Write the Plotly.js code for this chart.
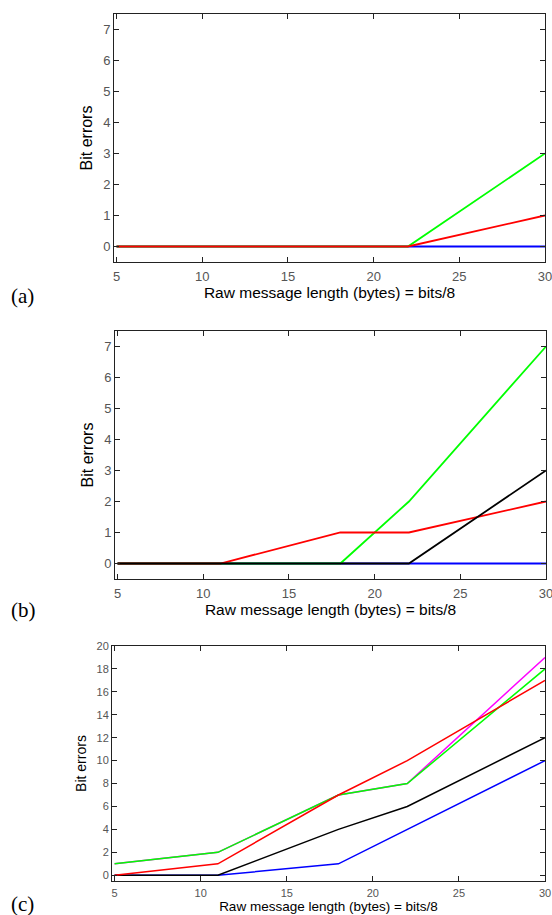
<!DOCTYPE html>
<html><head><meta charset="utf-8">
<script src="https://cdn.plot.ly/plotly-3.0.1.min.js"></script>
<style>html,body{margin:0;padding:0;background:#fff;}#chart{width:552px;height:915px;}</style>
</head><body><div id="chart"></div><script>
// x values: raw message length (bytes)
const lengths = [5, 11, 18, 22, 30];
const xTicks = [5, 10, 15, 20, 25, 30];
// panel (a)
const aBlue = [0, 0, 0, 0, 0];
const aGreen = [0, 0, 0, 0, 3];
const aRed = [0, 0, 0, 0, 1];
// panel (b)
const bBlue = [0, 0, 0, 0, 0];
const bGreen = [0, 0, 0, 2, 7];
const bRed = [0, 0, 1, 1, 2];
const bBlack = [0, 0, 0, 0, 3];
// panel (c)
const cBlue = [0, 0, 1, 4, 10];
const cBlack = [0, 0, 4, 6, 12];
const cMagenta = [1, 2, 7, 8, 19];
const cGreen = [1, 2, 7, 8, 18];
const cRed = [0, 1, 7, 10, 17];
const panelLabels = ['(a)', '(b)', '(c)'];
const xTitle = 'Raw message length (bytes) = bits/8';
const yTitle = 'Bit errors';

function tr(y, color, xa, ya, w) {
  return {x: lengths, y: y, type: 'scatter', mode: 'lines', xaxis: xa, yaxis: ya,
          line: {color: color, width: w || 1.8}, hoverinfo: 'skip', showlegend: false};
}
const data = [
  tr(aBlue, '#0000ff', 'x', 'y'), tr(aGreen, '#00ff00', 'x', 'y'), tr(aRed, '#ff0000', 'x', 'y'),
  tr(bBlue, '#0000ff', 'x2', 'y2'), tr(bGreen, '#00ff00', 'x2', 'y2'), tr(bRed, '#ff0000', 'x2', 'y2'), tr(bBlack, '#000000', 'x2', 'y2'),
  tr(cBlue, '#0000ff', 'x3', 'y3', 1.5), tr(cBlack, '#000000', 'x3', 'y3', 1.5), tr(cMagenta, '#ff00ff', 'x3', 'y3', 1.5),
  tr(cGreen, '#00ff00', 'x3', 'y3', 1.5), tr(cRed, '#ff0000', 'x3', 'y3', 1.5)
];
const H = 915, W = 552;
const tickFam = 'Arial, Liberation Sans';
function xax(l, r, anchor, fs, tfs) {
  return {domain: [l / W, r / W], anchor: anchor, range: [4.85, 30], tickvals: xTicks,
    ticks: 'inside', ticklen: 5, tickcolor: '#222', showline: true, mirror: 'ticks', linecolor: '#222', linewidth: 1,
    ticklabeloverflow: 'allow', ticklabelstandoff: 2,
    showgrid: false, zeroline: false, tickfont: {family: tickFam, size: fs, color: '#555'},
    title: {text: xTitle, font: {family: tickFam, size: tfs, color: '#000'}, standoff: 2}};
}
function yax(t, b, anchor, range, dtick, fs, tfs) {
  return {domain: [1 - b / H, 1 - t / H], anchor: anchor, range: range, dtick: dtick, tick0: 0,
    ticks: 'inside', ticklen: 5, tickcolor: '#222', showline: true, mirror: 'ticks', linecolor: '#222', linewidth: 1,
    showgrid: false, zeroline: false, tickfont: {family: tickFam, size: fs, color: '#555'},
    title: {text: yTitle, font: {family: tickFam, size: tfs, color: '#000'}, standoff: 6}};
}
const layout = {
  width: W, height: H, margin: {l: 0, r: 0, t: 0, b: 0}, paper_bgcolor: '#fff', plot_bgcolor: '#fff',
  showlegend: false,
  xaxis: xax(114, 545, 'y', 13, 15.5), yaxis: yax(14, 262, 'x', [-0.5, 7.5], 1, 13, 16),
  xaxis2: xax(115, 546, 'y2', 13, 15.5), yaxis2: yax(331, 579, 'x2', [-0.5, 7.5], 1, 13, 16),
  xaxis3: xax(112, 545, 'y3', 11, 13.5), yaxis3: yax(646, 881, 'x3', [-0.5, 20], 2, 11, 14),
  annotations: [
    {text: panelLabels[0], x: 9 / W, y: 1 - 296 / H},
    {text: panelLabels[1], x: 9 / W, y: 1 - 610 / H},
    {text: panelLabels[2], x: 9 / W, y: 1 - 904 / H}
  ].map(a => Object.assign(a, {xref: 'paper', yref: 'paper', xanchor: 'left', yanchor: 'middle', showarrow: false,
    font: {family: 'Liberation Serif, Times New Roman, serif', size: 21, color: '#000'}}))
};
Plotly.newPlot('chart', data, layout, {staticPlot: true});
</script></body></html>
